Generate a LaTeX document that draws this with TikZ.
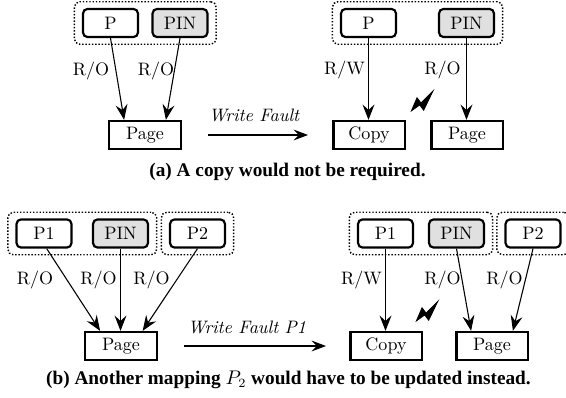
\documentclass[tikz,border=0pt]{standalone}
\usepackage{fontspec}
\newfontfamily\capfont{Liberation Serif}
\usetikzlibrary{arrows.meta,fit}
\tikzset{
  x=0.555pt, y=-0.555pt,
  proc/.style={draw, very thick, rounded corners=2.5pt, minimum width=30.5pt, minimum height=15.6pt, inner sep=0pt},
  pinproc/.style={proc, fill=black!12},
  frame/.style={draw, very thick, minimum width=39.5pt, minimum height=15.6pt, inner sep=0pt},
  grp/.style={draw, densely dotted, thick, rounded corners=3pt, inner xsep=4.2pt, inner ysep=3.4pt},
  map/.style={semithick, -{Stealth[length=8.5pt,width=6.6pt,inset=3pt]}},
  perm/.style={inner sep=0pt},
  fault/.style={semithick, -{Stealth[length=8pt,width=6pt,inset=3pt]}},
  bolt/.style={fill=black},
  captext/.style={font=\capfont\bfseries\fontsize{10.7}{12}\selectfont}
}
% lightning bolt centred on a point
\newcommand\faultbolt[1]{%
  \draw[bolt] (#1) +(-10.7,10) -- +(-5,-3.3) -- +(-1,2) -- +(11,-10)
    -- +(1.7,9.3) -- +(-2.3,4) -- cycle;}
\begin{document}
\begin{tikzpicture}
\useasboundingbox (0,0) rectangle (566,398);

% ---- (a) before the fault ----
\node[proc] (aP) at (110.5,23) {P};
\node[pinproc] (aPIN) at (180,23) {PIN};
\node[grp, fit=(aP)(aPIN)] (aG) {};
\node[frame] (aPage) at (145,135) {Page};
\draw[map] (aP.south) -- ([xshift=-11.6pt]aPage.north);
\draw[map] (aPIN.south) -- ([xshift=11.6pt]aPage.north);
\node[perm] (aL1) at (91,71) {R/O};
\node[perm] (aL2) at (156,71) {R/O};

% ---- (a) fault arrow ----
\coordinate (aF1) at (208,135);
\coordinate (aF2) at (308,135);
\draw[fault] (aF1) -- (aF2);
\node (aFT) at (254,115) {\itshape Write Fault};

% ---- (a) after the fault ----
\node[proc] (bP) at (368.5,23) {P};
\node[pinproc] (bPIN) at (466.5,23) {PIN};
\node[grp, fit=(bP)(bPIN)] (bG) {};
\node[frame] (bCopy) at (369,135) {Copy};
\node[frame] (bPage) at (467,135) {Page};
\draw[map] (bP.south) -- (bP.south |- bCopy.north);
\draw[map] (bPIN.south) -- (bPIN.south |- bPage.north);
\node[perm] (bL1) at (344.5,70) {R/W};
\node[perm] (bL2) at (442.5,70) {R/O};
\coordinate (bBolt) at (422,101);
\faultbolt{bBolt}

\node[captext] (capA) at (287.5,172) {(a) A copy would not be required.};

% ---- (b) before the fault ----
\node[proc] (cP1) at (44,233.5) {P1};
\node[pinproc] (cPIN) at (120.5,233.5) {PIN};
\node[proc] (cP2) at (197.5,233.5) {P2};
\node[grp, fit=(cP1)(cPIN)] (cG1) {};
\node[grp, fit=(cP2)] (cG2) {};
\node[frame] (cPage) at (121,346) {Page};
\draw[map] ([xshift=1.5pt]cP1.south) -- ([xshift=-11.6pt]cPage.north);
\draw[map] (cPIN.south) -- (cPIN.south |- cPage.north);
\draw[map] (cP2.south) -- ([xshift=12pt]cPage.north);
\node[perm] (cL1) at (35,280) {R/O};
\node[perm] (cL2) at (98.5,280) {R/O};
\node[perm] (cL3) at (151.5,280) {R/O};

% ---- (b) fault arrow ----
\coordinate (cF1) at (184,346);
\coordinate (cF2) at (326,346);
\draw[fault] (cF1) -- (cF2);
\node (cFT) at (247,327) {\itshape Write Fault P1};

% ---- (b) after the fault ----
\node[proc] (dP1) at (385.5,233.5) {P1};
\node[pinproc] (dPIN) at (456.5,233.5) {PIN};
\node[proc] (dP2) at (533,233.5) {P2};
\node[grp, fit=(dP1)(dPIN)] (dG1) {};
\node[grp, fit=(dP2)] (dG2) {};
\node[frame] (dCopy) at (386,346) {Copy};
\node[frame] (dPage) at (492,346) {Page};
\draw[map] (dP1.south) -- (dP1.south |- dCopy.north);
\draw[map] (dPIN.south) -- ([xshift=-11.6pt]dPage.north);
\draw[map] (dP2.south) -- ([xshift=11.6pt]dPage.north);
\node[perm] (dL1) at (361.5,280) {R/W};
\node[perm] (dL2) at (442.5,280) {R/O};
\node[perm] (dL3) at (504.5,280) {R/O};
\coordinate (dBolt) at (427,311);
\faultbolt{dBolt}

\node[captext] (capB) at (288.5,380) {(b) Another mapping $P_2$ would have to be updated instead.};
\end{tikzpicture}
\end{document}
